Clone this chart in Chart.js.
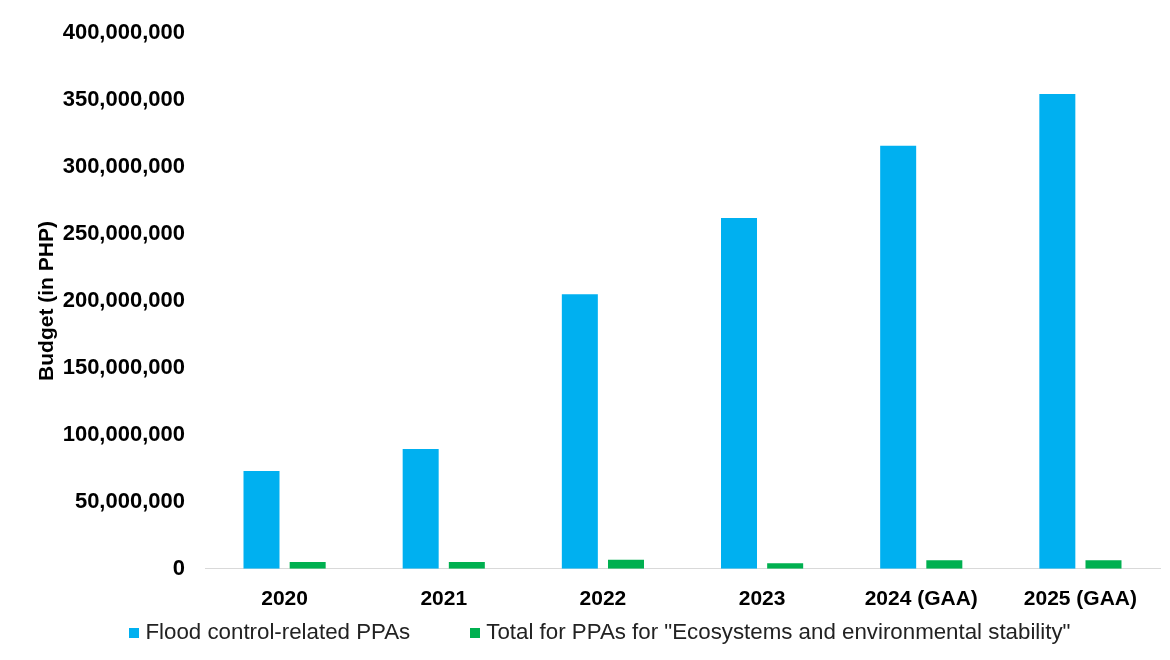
<!DOCTYPE html>
<html>
<head>
<meta charset="utf-8">
<script src="https://cdn.jsdelivr.net/npm/chart.js@4.4.1/dist/chart.umd.min.js"></script>
<style>
  html, body { margin: 0; padding: 0; background: #fff; }
  #wrap { width: 1170px; height: 660px; position: relative; }
  #legend { position: absolute; left: 30px; right: 0; top: 619px; text-align: center;
            font: 22.3px 'Liberation Sans', Arial, sans-serif; color: #222; white-space: nowrap; }
  #legend span.item { display: inline-block; margin: 0 30px; }
  #legend i { display: inline-block; width: 10px; height: 10px; margin-right: 6px; vertical-align: 1px; }
</style>
</head>
<body>
<div id="wrap"><canvas id="chart"></canvas><div id="legend"></div></div>
<script>
// categories and series
const years = ['2020', '2021', '2022', '2023', '2024 (GAA)', '2025 (GAA)'];
const floodControl = [73000000, 89500000, 205000000, 262000000, 316000000, 354500000];
const ecosystems   = [5000000, 5000000, 6700000, 4200000, 6300000, 6300000];
const yTicks = [0, 50000000, 100000000, 150000000, 200000000, 250000000, 300000000, 350000000, 400000000];

const FONT = "'Liberation Sans', Arial, sans-serif";
const fmt = (v) => Number(v).toLocaleString('en-US');

const chart = new Chart(document.getElementById('chart'), {
  type: 'bar',
  data: {
    labels: years,
    datasets: [
      { label: 'Flood control-related PPAs', data: floodControl, backgroundColor: '#00b0f0', borderWidth: 0 },
      { label: 'Total for PPAs for "Ecosystems and environmental stability"', data: ecosystems, backgroundColor: '#00b050', borderWidth: 0 },
    ]
  },
  options: {
    responsive: true,
    maintainAspectRatio: false,
    animation: false,
    layout: { padding: { top: 27, left: 22, right: 10, bottom: 30 } },
    datasets: { bar: { categoryPercentage: 0.58, barPercentage: 0.78 } },
    plugins: {
      tooltip: { enabled: false },
      legend: { display: false }
    },
    scales: {
      x: {
        grid: { display: false, drawTicks: false },
        border: { color: '#d9d9d9', width: 1 },
        ticks: { font: { family: FONT, size: 21, weight: 'bold' }, color: '#000', padding: 18, maxRotation: 0 },
      },
      y: {
        min: 0, max: 400000000,
        afterBuildTicks: (axis) => { axis.ticks = yTicks.map(v => ({ value: v })); },
        afterFit: (axis) => { axis.width = 183; },
        grid: { display: false, drawTicks: false },
        border: { display: false },
        title: { display: true, text: 'Budget (in PHP)', font: { family: FONT, size: 21, weight: 'bold' }, color: '#000', padding: { top: 13, bottom: 0 } },
        ticks: { font: { family: FONT, size: 22, weight: 'bold' }, color: '#000', padding: 20, callback: fmt },
      }
    }
  }
});

// html legend built from the chart's datasets
document.getElementById('legend').innerHTML = chart.data.datasets.map(ds =>
  `<span class="item"><i style="background:${ds.backgroundColor}"></i>${ds.label.replace(/"/g, '&quot;')}</span>`
).join('');
</script>
</body>
</html>
